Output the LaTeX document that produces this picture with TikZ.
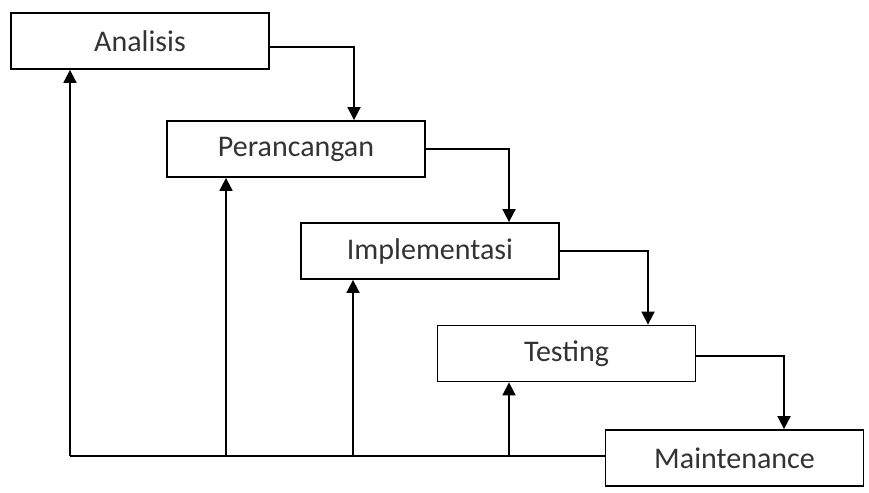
\documentclass[tikz,border=0pt]{standalone}
\usepackage{fontspec}
\setmainfont{Carlito}
\usetikzlibrary{arrows.meta}
\tikzstyle{phase} = [rectangle, minimum width=258pt, minimum height=56pt, inner sep=0pt, text centered, draw=black, line width=1.8pt, text=black!80, font=\fontsize{30}{36}\selectfont]
\tikzstyle{arrow} = [line width=1.8pt, -{Triangle[length=13pt,width=13pt]}]
\tikzstyle{line} = [line width=1.8pt]

\begin{document}
\begin{tikzpicture}[x=1pt, y=-1pt]
    \useasboundingbox (0,0) rectangle (869,492);

    % Nodes
    \node (analisis) [phase] at (140,41) {Analisis};
    \node (perancangan) [phase] at (296,149) {Perancangan};
    \node (implementasi) [phase] at (430,251) {Implementasi};
    \node (testing) [phase] at (566.5,353.5) {Testing};
    \node (maintenance) [phase] at (734.5,458) {Maintenance};

    % Bottom feedback line
    \coordinate (back1) at (70,456);
    \coordinate (back2) at (226,456);
    \coordinate (back3) at (353,456);
    \coordinate (back4) at (509,456);

    % Arrows
    \draw [arrow] ([yshift=-6pt]analisis.east) -| ([xshift=58pt]perancangan.north);
    \draw [arrow] (perancangan.east) -| ([xshift=79pt]implementasi.north);
    \draw [arrow] (implementasi.east) -| ([xshift=81.5pt]testing.north);
    \draw [arrow] ([yshift=-2.5pt]testing.east) -| ([xshift=49.5pt]maintenance.north);

    \draw [line] (maintenance.west |- back1) -- (back1);
    \draw [arrow] (back1) -- (back1 |- analisis.south);
    \draw [arrow] (back2) -- (back2 |- perancangan.south);
    \draw [arrow] (back3) -- (back3 |- implementasi.south);
    \draw [arrow] (back4) -- (back4 |- testing.south);

\end{tikzpicture}
\end{document}
